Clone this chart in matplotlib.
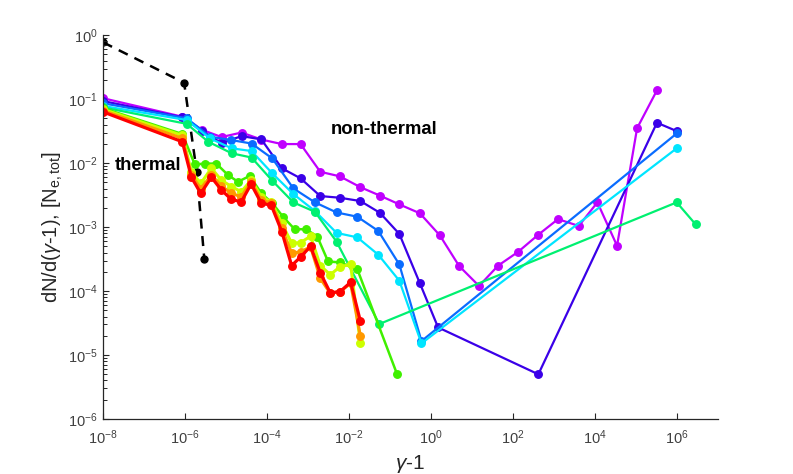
import matplotlib
matplotlib.use("Agg")
import matplotlib.pyplot as plt
from matplotlib.ticker import LogLocator, LogFormatterSciNotation, NullLocator

plt.rcParams['font.family'] = ['Liberation Sans', 'DejaVu Sans']
plt.rcParams['mathtext.fontset'] = 'custom'
plt.rcParams['mathtext.rm'] = 'Liberation Sans'
plt.rcParams['mathtext.it'] = 'Liberation Sans:italic'
plt.rcParams['mathtext.bf'] = 'Liberation Sans:bold'
plt.rcParams['axes.unicode_minus'] = False

# ---- data ----
x_thermal = [1e-8, 9.5e-7, 1.93e-6, 2.95e-6]
y_thermal = [0.77, 0.18, 7.3e-3, 3.2e-4]

x_purple = [1e-8, 8.6e-7, 2.6e-6, 7.8e-6, 2.4e-5, 7.3e-5, 2.3e-4, 6.6e-4, 2.0e-3, 6.0e-3,
            1.9e-2, 5.7e-2, 0.17, 0.54, 1.66, 4.9, 15, 44, 135, 420, 1270, 4070, 11600,
            35000, 1.08e5, 3.3e5]
y_purple = [0.103, 0.053, 0.033, 0.0255, 0.030, 0.0233, 0.0198, 0.0198, 0.0073, 0.0062,
            0.0042, 0.0031, 0.00226, 0.00164, 7.4e-4, 2.46e-4, 1.2e-4, 2.5e-4, 4.1e-4,
            7.6e-4, 1.33e-3, 1.04e-3, 2.43e-3, 5.1e-4, 0.035, 0.137]

x_violet = [1e-8, 8.6e-7, 2.6e-6, 7.8e-6, 2.4e-5, 7.3e-5, 2.3e-4, 6.6e-4, 2.0e-3, 6.0e-3,
            1.9e-2, 5.7e-2, 0.17, 0.54, 1.5, 420, 3.3e5, 1.0e6]
y_violet = [0.093, 0.052, 0.0316, 0.0205, 0.0264, 0.0234, 0.0083, 0.00577, 0.00305,
            0.00287, 0.00255, 0.00167, 7.8e-4, 1.32e-4, 2.7e-5, 5.0e-6, 0.0427, 0.0316]

x_blue = [1e-8, 1.1e-6, 4.1e-6, 1.33e-5, 4.2e-5, 1.35e-4, 4.4e-4, 1.48e-3, 5.0e-3, 1.6e-2,
          5.2e-2, 0.17, 0.59, 1.0e6]
y_blue = [0.086, 0.050, 0.0258, 0.0229, 0.0202, 0.0118, 0.00402, 0.00243, 0.00169,
          0.00145, 8.7e-4, 2.6e-4, 1.65e-5, 0.029]

x_cyan = [1e-8, 1.1e-6, 4.1e-6, 1.38e-5, 4.2e-5, 1.35e-4, 4.4e-4, 1.48e-3, 5.0e-3, 1.6e-2,
          5.2e-2, 0.17, 0.59, 1.0e6]
y_cyan = [0.078, 0.047, 0.0242, 0.017, 0.0154, 0.0069, 0.00328, 0.00178, 8.1e-4, 6.9e-4,
          3.7e-4, 1.45e-4, 1.52e-5, 0.017]

x_spring = [1e-8, 1.1e-6, 3.7e-6, 1.38e-5, 4.2e-5, 1.35e-4, 4.4e-4, 1.48e-3, 5.0e-3,
            5.5e-2, 1.0e6, 2.9e6]
y_spring = [0.074, 0.041, 0.0215, 0.0142, 0.0122, 0.00529, 0.00243, 0.00173, 5.9e-4,
            3.05e-5, 0.00243, 1.1e-3]

x_lime = [1e-8, 8.6e-7, 1.73e-6, 3.0e-6, 5.8e-6, 1.12e-5, 1.96e-5, 3.8e-5, 7.3e-5,
          1.35e-4, 2.5e-4, 4.7e-4, 9.1e-4, 1.69e-3, 3.1e-3, 6.0e-3, 1.6e-2, 0.15]
y_lime = [0.072, 0.0284, 0.0095, 0.0098, 0.0098, 0.0065, 0.0051, 0.0063, 0.00336,
          0.00237, 0.00143, 9.3e-4, 9.2e-4, 7.1e-4, 2.9e-4, 2.8e-4, 2.2e-4, 5.0e-6]

x_fine = [1e-8, 8.6e-7, 1.43e-6, 2.42e-6, 4.4e-6, 7.7e-6, 1.35e-5, 2.36e-5, 4.1e-5, 7.3e-5,
          1.27e-4, 2.3e-4, 4.0e-4, 6.6e-4, 1.16e-3, 2.0e-3, 3.5e-3, 6.1e-3, 1.1e-2, 1.9e-2]
y_yellow = [0.069, 0.027, 0.0073, 0.0048, 0.0083, 0.0054, 0.0043, 0.00356, 0.0054,
            0.00297, 0.00248, 0.00114, 5.6e-4, 5.7e-4, 7.2e-4, 2.5e-4, 1.8e-4, 2.4e-4,
            2.6e-4, 1.52e-5]
y_orange = [0.066, 0.0243, 0.0065, 0.0040, 0.0065, 0.0044, 0.00336, 0.00297, 0.0051,
            0.00264, 0.00235, 9.6e-4, 3.9e-4, 4.1e-4, 4.9e-4, 1.58e-4, 9.2e-5, 9.8e-5,
            1.32e-4, 2.0e-5]
y_red = [0.063, 0.0215, 0.0060, 0.00336, 0.0060, 0.0038, 0.0027, 0.00248, 0.0047,
         0.00235, 0.0022, 8.5e-4, 2.5e-4, 3.4e-4, 5.0e-4, 1.93e-4, 9.4e-5, 9.8e-5,
         1.37e-4, 3.4e-5]

x_ticks = [1e-8, 1e-6, 1e-4, 1e-2, 1e0, 1e2, 1e4, 1e6]
y_ticks = [1e-6, 1e-5, 1e-4, 1e-3, 1e-2, 1e-1, 1e0]

series = [
    (x_purple, y_purple, '#c000ff', 1.6),
    (x_violet, y_violet, '#3a00e8', 1.6),
    (x_blue, y_blue, '#0a6cff', 1.6),
    (x_cyan, y_cyan, '#00e5ff', 1.6),
    (x_spring, y_spring, '#00f070', 1.6),
    (x_lime, y_lime, '#40f000', 1.8),
    (x_fine, y_yellow, '#ccff00', 2.2),
    (x_fine, y_orange, '#ff9900', 2.2),
    (x_fine, y_red, '#ff0000', 2.3),
]

fig = plt.figure(figsize=(7.93, 4.74), dpi=100)
ax = fig.add_axes([0.130, 0.116, 0.775, 0.810])

ax.plot(x_thermal, y_thermal, '--', color='black', lw=1.8, marker='o', ms=5,
        dashes=(4, 3), zorder=1)
for xs, ys, c, lw in series:
    ax.plot(xs, ys, '-', color=c, lw=lw, marker='o', ms=5.4, mec=c, mfc=c, zorder=2)

ax.set_xscale('log')
ax.set_yscale('log')
ax.set_xlim(1e-8, 1e7)
ax.set_ylim(1e-6, 1e0)
ax.set_xticks(x_ticks)
ax.set_yticks(y_ticks)
ax.xaxis.set_major_formatter(LogFormatterSciNotation())
ax.yaxis.set_major_formatter(LogFormatterSciNotation())
ax.xaxis.set_minor_locator(NullLocator())
ax.yaxis.set_minor_locator(LogLocator(base=10, subs=range(2, 10)))

for s in ['top', 'right']:
    ax.spines[s].set_visible(False)
for s in ['left', 'bottom']:
    ax.spines[s].set_color('#262626')
    ax.spines[s].set_linewidth(0.9)

ax.tick_params(which='major', direction='in', length=4.5, width=0.8, color='#262626',
               labelsize=10.5, labelcolor='#404040')
ax.tick_params(axis='x', which='major', pad=7)
ax.tick_params(axis='y', which='major', pad=4)
ax.tick_params(which='minor', direction='in', length=2.8, width=0.7, color='#262626')

ax.set_xlabel(r'$\gamma$-1', fontsize=15, color='#262626', labelpad=4)
ax.set_ylabel(r'dN/d($\gamma$-1), [N$_{\mathrm{e,tot}}$]', fontsize=14.5, color='#262626',
              labelpad=2)

ax.text(1.96e-8, 7.8e-3, 'thermal', fontsize=13.3, fontweight='bold', color='black',
        ha='left', va='baseline', zorder=3)
ax.text(3.57e-3, 0.0284, 'non-thermal', fontsize=13.3, fontweight='bold', color='black',
        ha='left', va='baseline', zorder=3)

fig.savefig('out.png', dpi=100)
